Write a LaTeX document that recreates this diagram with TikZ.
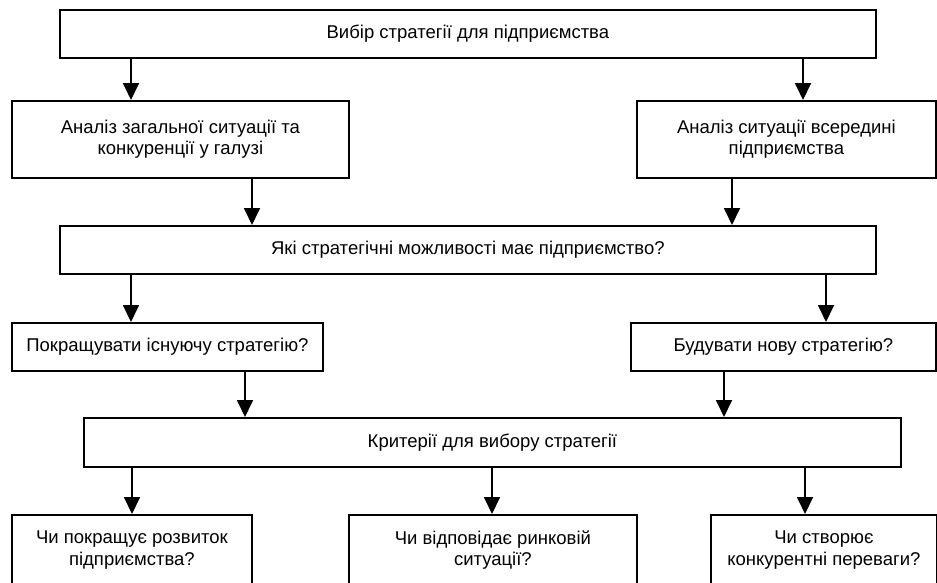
\documentclass[tikz,border=0pt]{standalone}
\usepackage{fontspec}
\setmainfont{Liberation Sans}
\usetikzlibrary{arrows.meta}

\begin{document}
\begin{tikzpicture}[
        x=1pt, y=-1pt,
        every node/.style={font=\fontsize{18.5}{21.5}\selectfont},
        box/.style 2 args={draw, line width=1.8pt, align=center, inner sep=0pt,
            anchor=north west, minimum width=#1pt, minimum height=#2pt},
        arr/.style={line width=1.8pt, -{Triangle[length=17pt,width=16pt]}}
    ]
    \useasboundingbox (0,0) rectangle (937,582);

    % boxes
    \node[box={816}{48}] (vybir) at (59,9) {Вибір стратегії для підприємства};
    \node[box={337}{77}] (zahal) at (11,100) {Аналіз загальної ситуації та\\конкуренції у галузі};
    \node[box={299}{77}] (vseredyni) at (636,100) {Аналіз ситуації всередині\\підприємства};
    \node[box={816}{48}] (mozhl) at (59,225) {Які стратегічні можливості має підприємство?};
    \node[box={311}{48}] (pokr) at (11,322) {Покращувати існуючу стратегію?};
    \node[box={305}{48}] (nova) at (630,322) {Будувати нову стратегію?};
    \node[box={817}{49}] (kryt) at (83,417) {Критерії для вибору стратегії};
    \node[box={240}{70}] (rozv) at (11,514) {Чи покращує розвиток\\підприємства?};
    \node[box={288}{70}] (rynok) at (348,514) {Чи відповідає ринковій\\ситуації?};
    \node[box={226}{70}] (perevagy) at (710,514) {Чи створює\\конкурентні переваги?};

    % arrows
    \draw[arr] (vybir.south -| 131,0) -- (zahal.north -| 131,0);
    \draw[arr] (vybir.south -| 803,0) -- (vseredyni.north -| 803,0);
    \draw[arr] (zahal.south -| 252,0) -- (mozhl.north -| 252,0);
    \draw[arr] (vseredyni.south -| 732,0) -- (mozhl.north -| 732,0);
    \draw[arr] (mozhl.south -| 131,0) -- (pokr.north -| 131,0);
    \draw[arr] (mozhl.south -| 826,0) -- (nova.north -| 826,0);
    \draw[arr] (pokr.south -| 245,0) -- (kryt.north -| 245,0);
    \draw[arr] (nova.south -| 724,0) -- (kryt.north -| 724,0);
    \draw[arr] (kryt.south -| 132,0) -- (rozv.north -| 132,0);
    \draw[arr] (kryt.south -| 492,0) -- (rynok.north -| 492,0);
    \draw[arr] (kryt.south -| 805,0) -- (perevagy.north -| 805,0);
\end{tikzpicture}
\end{document}
